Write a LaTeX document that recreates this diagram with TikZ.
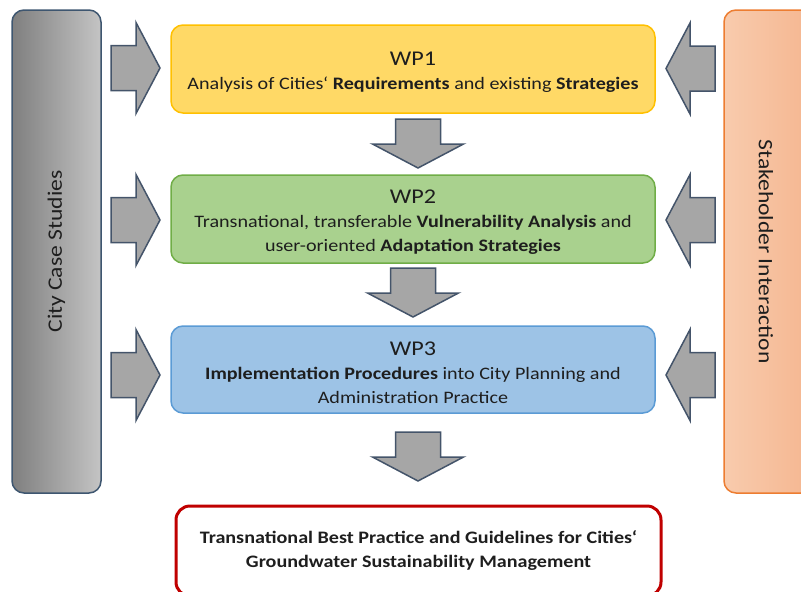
\documentclass[tikz,border=0pt]{standalone}
\usepackage{fontspec}
\setmainfont{Carlito}[FakeStretch=1.15]
\definecolor{txt}{HTML}{1E1E1E}
\definecolor{arrowfill}{HTML}{A6A6A6}
\definecolor{arrowline}{HTML}{44546A}
\definecolor{wpAfill}{HTML}{FFD966}
\definecolor{wpAline}{HTML}{FFC000}
\definecolor{wpBfill}{HTML}{A9D18E}
\definecolor{wpBline}{HTML}{70AD47}
\definecolor{wpCfill}{HTML}{9DC3E6}
\definecolor{wpCline}{HTML}{5B9BD5}
\definecolor{resline}{HTML}{C00000}
\definecolor{casesdark}{HTML}{7F7F7F}
\definecolor{caseslight}{HTML}{C4C4C4}
\definecolor{casesline}{HTML}{3E5670}
\definecolor{stakeA}{HTML}{F8CBAD}
\definecolor{stakeB}{HTML}{F5B690}
\definecolor{stakeline}{HTML}{ED7D31}
\begin{document}
\begin{tikzpicture}[x=1pt,y=-1pt,
  wpbox/.style={draw, rounded corners=12pt, line width=1.5pt,
    minimum width=484pt, minimum height=88pt, inner sep=0pt},
  wptext/.style={inner sep=0pt, align=center, text=txt,
    font=\fontsize{17.5}{24}\selectfont},
  resultbox/.style={draw=resline, fill=white, rounded corners=14pt, line width=3pt,
    minimum width=485pt, minimum height=90pt, inner sep=0pt, align=center,
    text=txt, font=\bfseries\fontsize{17.5}{24}\selectfont},
  sidebar/.style={rounded corners=12pt, line width=1.5pt, inner sep=0pt,
    minimum height=483pt},
  sidelabel/.style={text=txt, font=\fontsize{20.5}{24}\selectfont, inner sep=0pt},
  arrowstyle/.style={fill=arrowfill, draw=arrowline, line width=1.5pt, line join=miter},
  blockarrow/.pic={\draw[arrowstyle] (0,-22.5) -- (25,-22.5) -- (25,-45.5) -- (49,0)
      -- (25,45.5) -- (25,22.5) -- (0,22.5) -- cycle;}
]
\useasboundingbox (0,0) rectangle (801,592);
\clip (0,0) rectangle (801,592);

% side bars
\node[sidebar, draw=casesline, left color=casesdark, right color=caseslight,
  minimum width=89pt] (cases) at (56.5,251.5) {};
\node[sidelabel, rotate=90] (caseslabel) at (cases.center) {City Case Studies};
\node[sidebar, draw=stakeline, left color=stakeA, right color=stakeB,
  minimum width=89pt] (stake) at (768.5,251.5) {};
\node[sidelabel, rotate=-90] (stakelabel) at (766,251.5) {Stakeholder Interaction};

% work packages
\newcommand{\wptitle}[1]{{\fontsize{21}{24}\selectfont #1}}
\node[wpbox, fill=wpAfill, draw=wpAline] (wp1) at (413,69) {};
\node[wptext] (wp1text) at ([yshift=-3pt]wp1.center)
  {\wptitle{WP1}\\Analysis of Cities‘ \textbf{Requirements} and existing \textbf{Strategies}};
\node[wpbox, fill=wpBfill, draw=wpBline] (wp2) at (413,219) {};
\node[wptext] (wp2text) at ([yshift=-3pt]wp2.center)
  {\wptitle{WP2}\\Transnational, transferable \textbf{Vulnerability Analysis} and\\user-oriented \textbf{Adaptation Strategies}};
\node[wpbox, fill=wpCfill, draw=wpCline, minimum height=87pt] (wp3) at (413,369.5) {};
\node[wptext] (wp3text) at ([yshift=-3pt]wp3.center)
  {\wptitle{WP3}\\\textbf{Implementation Procedures} into City Planning and\\Administration Practice};

% result
\node[resultbox] (result) at (418.5,551)
  {Transnational Best Practice and Guidelines for Cities‘\\Groundwater Sustainability Management};

% arrows from the case studies
\pic at (111,68) {blockarrow};
\pic at (111,220) {blockarrow};
\pic at (111,375) {blockarrow};
% arrows from the stakeholders
\pic[rotate=180] at (715,68.5) {blockarrow};
\pic[rotate=180] at (715,220) {blockarrow};
\pic[rotate=180] at (715,375) {blockarrow};
% downward flow
\pic[rotate=-90] at (418,119) {blockarrow};
\pic[rotate=-90] at (413,268) {blockarrow};
\pic[rotate=-90] at (418,432) {blockarrow};
\end{tikzpicture}
\end{document}
